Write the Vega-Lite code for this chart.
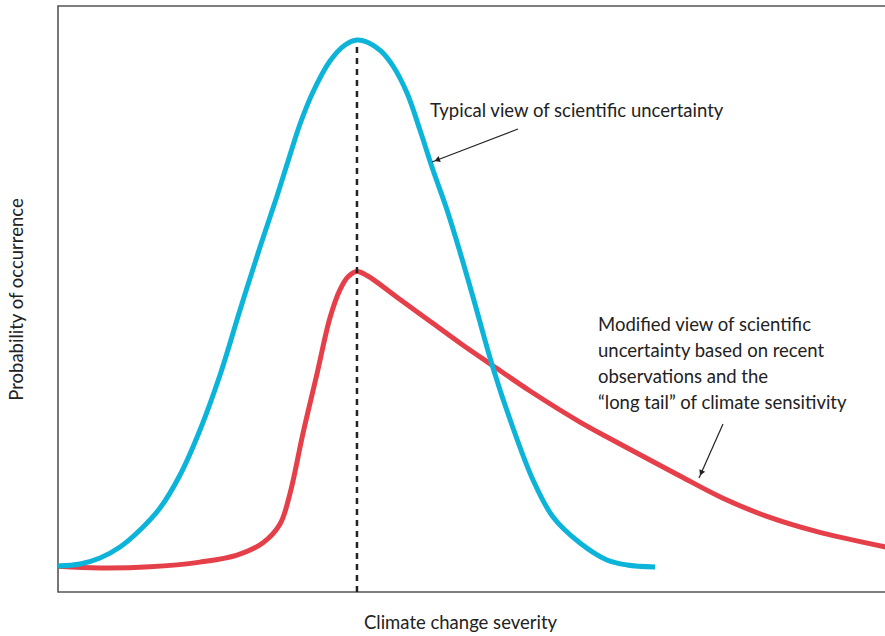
{
  "$schema": "https://vega.github.io/schema/vega-lite/v6.json",
  "width": 830,
  "height": 586,
  "autosize": {"type": "none"},
  "padding": {"left": 58, "top": 6, "right": 0, "bottom": 44},
  "background": "white",
  "config": {"view": {"stroke": "#555555", "strokeWidth": 1.6}, "font": "Lato"},
  "datasets": {
    "curves": [
      {"series": "typical", "x": 0, "y": 4.44},
      {"series": "typical", "x": 2.65, "y": 4.78},
      {"series": "typical", "x": 5.06, "y": 5.8},
      {"series": "typical", "x": 7.47, "y": 7.68},
      {"series": "typical", "x": 9.88, "y": 10.58},
      {"series": "typical", "x": 12.29, "y": 14.33},
      {"series": "typical", "x": 14.7, "y": 19.97},
      {"series": "typical", "x": 17.11, "y": 27.65},
      {"series": "typical", "x": 19.52, "y": 37.03},
      {"series": "typical", "x": 21.93, "y": 48.12},
      {"series": "typical", "x": 24.34, "y": 58.87},
      {"series": "typical", "x": 26.39, "y": 67.58},
      {"series": "typical", "x": 27.95, "y": 74.57},
      {"series": "typical", "x": 29.16, "y": 79.86},
      {"series": "typical", "x": 30.72, "y": 85.32},
      {"series": "typical", "x": 32.77, "y": 90.61},
      {"series": "typical", "x": 34.58, "y": 93.34},
      {"series": "typical", "x": 36.02, "y": 94.2},
      {"series": "typical", "x": 37.47, "y": 93.7},
      {"series": "typical", "x": 38.92, "y": 92.3},
      {"series": "typical", "x": 40.36, "y": 89.76},
      {"series": "typical", "x": 42.05, "y": 85.15},
      {"series": "typical", "x": 43.61, "y": 78.84},
      {"series": "typical", "x": 45.18, "y": 72.01},
      {"series": "typical", "x": 46.87, "y": 65.19},
      {"series": "typical", "x": 48.43, "y": 58.02},
      {"series": "typical", "x": 50.0, "y": 50.34},
      {"series": "typical", "x": 52.41, "y": 38.23},
      {"series": "typical", "x": 54.82, "y": 27.99},
      {"series": "typical", "x": 57.23, "y": 19.11},
      {"series": "typical", "x": 59.64, "y": 12.8},
      {"series": "typical", "x": 62.89, "y": 8.36},
      {"series": "typical", "x": 66.14, "y": 5.46},
      {"series": "typical", "x": 68.55, "y": 4.61},
      {"series": "typical", "x": 71.93, "y": 4.27},
      {"series": "modified", "x": 0, "y": 4.4},
      {"series": "modified", "x": 5.06, "y": 4.1},
      {"series": "modified", "x": 11.08, "y": 4.3},
      {"series": "modified", "x": 17.11, "y": 5.1},
      {"series": "modified", "x": 21.57, "y": 6.3},
      {"series": "modified", "x": 24.7, "y": 8.4},
      {"series": "modified", "x": 26.75, "y": 11.6},
      {"series": "modified", "x": 27.95, "y": 16.8},
      {"series": "modified", "x": 29.52, "y": 27.1},
      {"series": "modified", "x": 31.2, "y": 37.2},
      {"series": "modified", "x": 32.77, "y": 46.8},
      {"series": "modified", "x": 33.98, "y": 51.6},
      {"series": "modified", "x": 34.94, "y": 53.8},
      {"series": "modified", "x": 36.02, "y": 54.7},
      {"series": "modified", "x": 37.23, "y": 54.0},
      {"series": "modified", "x": 40.84, "y": 50.3},
      {"series": "modified", "x": 44.82, "y": 46.2},
      {"series": "modified", "x": 48.8, "y": 42.1},
      {"series": "modified", "x": 52.41, "y": 38.6},
      {"series": "modified", "x": 56.87, "y": 34.3},
      {"series": "modified", "x": 62.89, "y": 29.0},
      {"series": "modified", "x": 66.87, "y": 25.9},
      {"series": "modified", "x": 74.94, "y": 19.8},
      {"series": "modified", "x": 80.12, "y": 16.0},
      {"series": "modified", "x": 85.42, "y": 12.9},
      {"series": "modified", "x": 91.45, "y": 10.3},
      {"series": "modified", "x": 100, "y": 7.6}
    ],
    "peak": [{"x": 36.02, "y": 0, "y2": 93.86}],
    "arrows": [
      {"label": "typical", "x": 55.42, "y": 79.01, "x2": 45.06, "y2": 73.38},
      {"label": "modified", "x": 80.12, "y": 28.67, "x2": 77.23, "y2": 19.45}
    ],
    "heads": [
      {"label": "typical", "x": 45.67, "y": 73.72},
      {"label": "modified", "x": 77.49, "y": 20.31}
    ],
    "notes": [
      {"label": "typical", "x": 44.82, "y": 81.14, "text": "Typical view of scientific uncertainty"},
      {"label": "modified", "x": 65.06, "y": 44.54, "text": "Modified view of scientific\nuncertainty based on recent\nobservations and the\n“long tail” of climate sensitivity"}
    ]
  },
  "encoding": {
    "x": {"field": "x", "type": "quantitative", "scale": {"domain": [0, 100], "nice": false, "zero": false},
      "axis": {"title": "Climate change severity", "domain": false, "ticks": false, "labels": false, "grid": false,
        "titleFont": "Lato", "titleFontSize": 18.5, "titleFontWeight": "normal", "titleColor": "#222222",
        "titleX": 402, "titleY": 30, "titleBaseline": "middle", "titleAlign": "center"}},
    "y": {"field": "y", "type": "quantitative", "scale": {"domain": [0, 100], "nice": false, "zero": false},
      "axis": {"title": "Probability of occurrence", "domain": false, "ticks": false, "labels": false, "grid": false,
        "titleFont": "Lato", "titleFontSize": 18.5, "titleFontWeight": "normal", "titleColor": "#222222",
        "titleX": -42, "titleY": 293, "titleAngle": -90, "titleBaseline": "middle", "titleAlign": "center"}}
  },
  "layer": [
    {
      "data": {"name": "curves"},
      "transform": [{"filter": "datum.series === 'modified'"}],
      "mark": {"type": "line", "color": "#e5404a", "strokeWidth": 5, "interpolate": "catmull-rom"}
    },
    {
      "data": {"name": "curves"},
      "transform": [{"filter": "datum.series === 'typical'"}],
      "mark": {"type": "line", "color": "#0db4d9", "strokeWidth": 5, "interpolate": "catmull-rom"}
    },
    {
      "data": {"name": "peak"},
      "mark": {"type": "rule", "color": "#222222", "strokeWidth": 2.5, "strokeDash": [6, 5]},
      "encoding": {"y2": {"field": "y2"}}
    },
    {
      "data": {"name": "arrows"},
      "mark": {"type": "rule", "color": "#222222", "strokeWidth": 1.2},
      "encoding": {"x2": {"field": "x2"}, "y2": {"field": "y2"}}
    },
    {
      "data": {"name": "heads"},
      "transform": [{"filter": "datum.label === 'typical'"}],
      "mark": {"type": "point", "shape": "triangle-up", "filled": true, "color": "#222222", "size": 40, "angle": 249, "opacity": 1}
    },
    {
      "data": {"name": "heads"},
      "transform": [{"filter": "datum.label === 'modified'"}],
      "mark": {"type": "point", "shape": "triangle-up", "filled": true, "color": "#222222", "size": 40, "angle": 204, "opacity": 1}
    },
    {
      "data": {"name": "notes"},
      "mark": {"type": "text", "align": "left", "baseline": "alphabetic", "font": "Lato", "fontSize": 18.5, "color": "#222222", "lineBreak": "\n", "lineHeight": 26},
      "encoding": {"text": {"field": "text"}}
    }
  ]
}
